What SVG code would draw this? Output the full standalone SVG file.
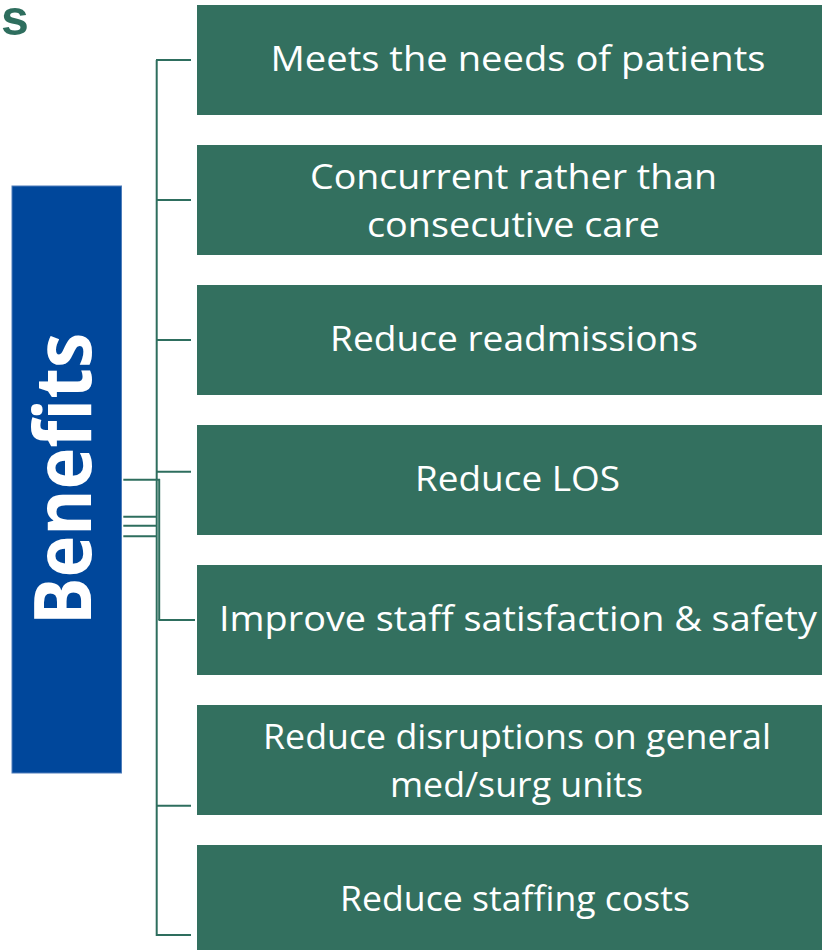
<svg xmlns="http://www.w3.org/2000/svg" width="822" height="950" viewBox="0 0 822 950">
  <style>
    .box { fill: #33705F; }
    .lbl { font-family: "Open Sans", "Noto Sans", sans-serif; font-size: 35px; fill: #FFFFFF; text-anchor: middle; }
    .conn { stroke: #2E6E5E; stroke-width: 2; fill: none; }
  </style>
  <rect width="822" height="950" fill="#FFFFFF"/>
  <text x="1" y="35" font-family="Liberation Sans, Arial, sans-serif" font-size="50" font-weight="bold" fill="#2E6E5E">s</text>

  <g id="benefits">
    <rect x="12" y="186" width="109.5" height="587" fill="#00479B" stroke="#4E7DBA" stroke-width="1"/>
    <text transform="translate(91,479) rotate(-90)" x="0" y="0" font-family="Open Sans, Noto Sans, sans-serif" font-size="78" font-weight="bold" fill="#FFFFFF" text-anchor="middle" textLength="292" lengthAdjust="spacingAndGlyphs">Benefits</text>
  </g>

  <g id="connectors">
    <line class="conn" x1="156.7" y1="60" x2="156.7" y2="936"/>
    <line class="conn" x1="156" y1="60" x2="191" y2="60"/>
    <line class="conn" x1="156" y1="200" x2="191" y2="200"/>
    <line class="conn" x1="156" y1="340" x2="191" y2="340"/>
    <line class="conn" x1="156" y1="471.7" x2="191" y2="471.7"/>
    <line class="conn" x1="123.3" y1="479.7" x2="160" y2="479.7"/>
    <line class="conn" x1="159.2" y1="479" x2="159.2" y2="620"/>
    <line class="conn" x1="158.5" y1="620" x2="195" y2="620"/>
    <line class="conn" x1="123.3" y1="516.7" x2="156" y2="516.7"/>
    <line class="conn" x1="123.3" y1="525.7" x2="156" y2="525.7"/>
    <line class="conn" x1="123.3" y1="536.3" x2="156" y2="536.3" stroke-width="3"/>
    <line class="conn" x1="156" y1="805.7" x2="191" y2="805.7"/>
    <line class="conn" x1="156" y1="935" x2="191" y2="935"/>
  </g>

  <g id="node1">
    <rect class="box" x="197" y="5" width="640" height="110"/>
    <text class="lbl" x="518" y="71" textLength="495" lengthAdjust="spacingAndGlyphs">Meets the needs of patients</text>
  </g>
  <g id="node2">
    <rect class="box" x="197" y="145" width="640" height="110"/>
    <text class="lbl" x="513.5" y="189" textLength="407" lengthAdjust="spacingAndGlyphs">Concurrent rather than</text>
    <text class="lbl" x="513.5" y="237" textLength="293" lengthAdjust="spacingAndGlyphs">consecutive care</text>
  </g>
  <g id="node3">
    <rect class="box" x="197" y="285" width="640" height="110"/>
    <text class="lbl" x="514" y="351" textLength="368" lengthAdjust="spacingAndGlyphs">Reduce readmissions</text>
  </g>
  <g id="node4">
    <rect class="box" x="197" y="425" width="640" height="110"/>
    <text class="lbl" x="517.5" y="491" textLength="205" lengthAdjust="spacingAndGlyphs">Reduce LOS</text>
  </g>
  <g id="node5">
    <rect class="box" x="197" y="565" width="640" height="110"/>
    <text class="lbl" x="518" y="631" textLength="598" lengthAdjust="spacingAndGlyphs">Improve staff satisfaction &amp; safety</text>
  </g>
  <g id="node6">
    <rect class="box" x="197" y="705" width="640" height="110"/>
    <text class="lbl" x="517" y="749" textLength="508" lengthAdjust="spacingAndGlyphs">Reduce disruptions on general</text>
    <text class="lbl" x="516.5" y="797" textLength="253" lengthAdjust="spacingAndGlyphs">med/surg units</text>
  </g>
  <g id="node7">
    <rect class="box" x="197" y="845" width="640" height="110"/>
    <text class="lbl" x="515" y="911" textLength="350" lengthAdjust="spacingAndGlyphs">Reduce staffing costs</text>
  </g>
</svg>
